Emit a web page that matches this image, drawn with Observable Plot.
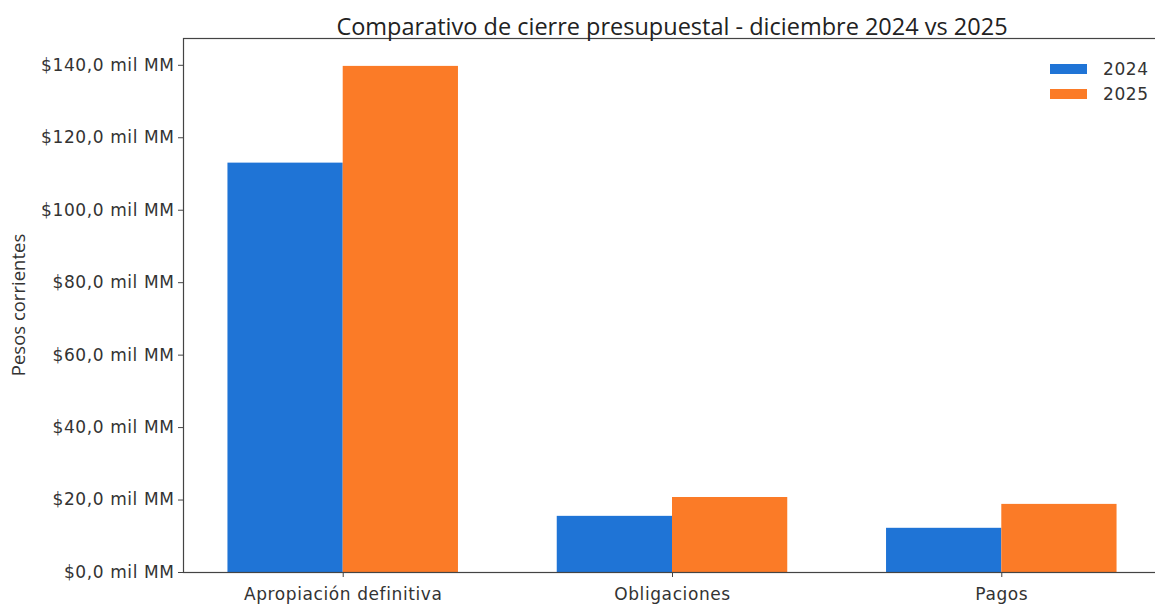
<!DOCTYPE html>
<html>
<head>
<meta charset="utf-8">
<script src="https://cdn.jsdelivr.net/npm/d3@7"></script>
<script src="https://cdn.jsdelivr.net/npm/@observablehq/plot@0.6"></script>
<style>
  html, body { margin: 0; padding: 0; background: #fff; }
  #wrap { position: relative; width: 1155px; height: 607px; overflow: hidden; font-family: "DejaVu Sans", sans-serif; color: #333; }
  #title { position: absolute; left: 672px; top: 27px; transform: translate(-50%, -50%); white-space: nowrap; font-family: "Open Sans", sans-serif; font-size: 23.5px; line-height: 1; color: #222; }
  #ylabel { position: absolute; left: 18px; top: 305px; transform: translate(-50%, -50%) rotate(-90deg); white-space: nowrap; font-family: "Open Sans", sans-serif; font-size: 18.5px; line-height: 1; color: #333; }
  #legend { position: absolute; left: 1050px; top: 56px; font-size: 17px; letter-spacing: 0.6px; color: #333; }
  #legend .row { display: flex; align-items: center; height: 25px; }
  #legend .sw { width: 37px; height: 10px; margin-right: 16px; }
</style>
</head>
<body>
<div id="wrap">
  <div id="chart"></div>
  <div id="title"></div>
  <div id="ylabel"></div>
  <div id="legend"></div>
</div>
<script>
const titleText = "Comparativo de cierre presupuestal - diciembre 2024 vs 2025";
const yLabelText = "Pesos corrientes";
const categories = ["Apropiación definitiva", "Obligaciones", "Pagos"];
const years = ["2024", "2025"];
const values2024 = [113.0, 15.5, 12.2];
const values2025 = [139.7, 20.7, 18.8];
const yTicks = [0, 20, 40, 60, 80, 100, 120, 140];
const colors = ["#1f74d6", "#fb7b27"];

const barWidth = 0.35;
const rows = categories.flatMap((c, i) => [
  {cat: c, i, year: years[0], value: values2024[i]},
  {cat: c, i, year: years[1], value: values2025[i]}
]);

const fmt = d => "$" + d.toFixed(1).replace(".", ",") + " mil MM";

const chart = Plot.plot({
  width: 1155,
  height: 607,
  marginTop: 38,
  marginBottom: 35,
  marginLeft: 183,
  marginRight: -6,
  style: {fontFamily: "DejaVu Sans, sans-serif", fontSize: "17px", letterSpacing: "0.6px", color: "#333", background: "#fff", overflow: "visible"},
  x: {domain: [-0.485, 2.485]},
  y: {domain: [0, 147.4]},
  color: {domain: years, range: colors},
  marks: [
    Plot.rect(rows, {
      x1: d => d.i + (d.year === years[0] ? -barWidth : 0),
      x2: d => d.i + (d.year === years[0] ? 0 : barWidth),
      y1: d => 0,
      y2: "value",
      fill: "year"
    }),
    Plot.frame({stroke: "#444", strokeWidth: 1.2}),
    Plot.axisY({ticks: yTicks, tickFormat: fmt, tickSize: 5, tickPadding: 4, label: null, stroke: "#444"}),
    Plot.axisX({ticks: [0, 1, 2], tickFormat: d => categories[d], tickSize: 5, tickPadding: 10, label: null, stroke: "#444"})
  ]
});
document.getElementById("chart").appendChild(chart);

document.getElementById("title").textContent = titleText;
document.getElementById("ylabel").textContent = yLabelText;
const legend = document.getElementById("legend");
years.forEach((y, k) => {
  const row = document.createElement("div");
  row.className = "row";
  const sw = document.createElement("div");
  sw.className = "sw";
  sw.style.background = colors[k];
  const t = document.createElement("span");
  t.textContent = y;
  row.appendChild(sw);
  row.appendChild(t);
  legend.appendChild(row);
});
</script>
</body>
</html>
